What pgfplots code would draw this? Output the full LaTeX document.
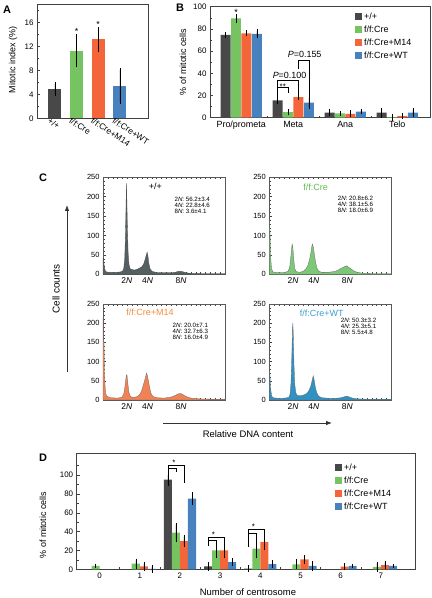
\documentclass[border=0pt]{standalone}
\usepackage{pgfplots}
\pgfplotsset{compat=1.18}
\usetikzlibrary{arrows.meta}
\usepackage{fontspec}
\setmainfont{Liberation Sans}
\definecolor{cgray}{RGB}{72,72,72}
\definecolor{cgreen}{RGB}{118,196,97}
\definecolor{corange}{RGB}{244,102,58}
\definecolor{cblue}{RGB}{72,130,190}
\definecolor{hgray}{RGB}{85,95,97}
\definecolor{hgreen}{RGB}{125,200,120}
\definecolor{horange}{RGB}{240,130,85}
\definecolor{hblue}{RGB}{50,145,195}
\definecolor{tgreen}{RGB}{95,185,75}
\definecolor{torange}{RGB}{240,140,60}
\definecolor{tblue}{RGB}{60,160,210}
\newcommand{\fs}[1]{\fontsize{#1}{#1}\selectfont}
\tikzset{stat/.style={anchor=north west, align=left, font=\fontsize{6.2}{6.1}\selectfont, inner sep=0pt}}
\pgfplotsset{
  every axis/.append style={/pgf/number format/assume math mode=true, scale only axis, anchor=south west,
    tick align=inside, axis line style={line width=0.6pt, black!75}, tick style={black!75, line width=0.4pt},
    major tick length=3bp, minor tick length=1.8bp, clip=false},
  mybar/.style={ybar, bar shift=0pt, bar width=#1, draw=none,
    /pgfplots/error bars/y dir=both, /pgfplots/error bars/y explicit,
    /pgfplots/error bars/error bar style={black, line width=0.5pt},
    /pgfplots/error bars/error mark options={black, mark size=1.8bp, line width=0.5pt}},
  sqlegend/.style={legend image code/.code={\fill[##1] (0bp,-3.5bp) rectangle (7bp,3.5bp);}},
  hist/.style={width=122bp, height=97bp, xmin=0, xmax=100, ymin=0, ymax=250,
    xtick={19.5,36.5,64}, xticklabels={2\textit{N},4\textit{N},8\textit{N}},
    major x tick style={draw=none}, minor xtick={0,4,...,100}, xtick pos=both,
    ytick={0,50,...,250}, minor y tick num=4, ytick pos=left,
    x tick label style={font=\fs{8.5}}, y tick label style={font=\fs{7.5}},
    axis line style={line width=0.5pt, black!65}},
}
\begin{document}
\begin{tikzpicture}
\path[use as bounding box] (0,0) rectangle (432bp,598bp);

% ---------------- Panel A ----------------
\node[font=\fs{11}\bfseries] at (7bp,588bp) {A};
\node[font=\fs{9}, rotate=90] at (13bp,538bp) {Mitotic index (\%)};
\begin{axis}[at={(37bp,479.7bp)}, width=111bp, height=113.6bp,
  xmin=0.17, xmax=5.3, ymin=0, ymax=19,
  xtick={1,2,3,4}, xticklabels={+/+,f/f:Cre,f/f:Cre+M14,f/f:Cre+WT},
  x tick label style={rotate=-33, anchor=north west, font=\fs{8.5}, inner sep=0.5bp, xshift=-5bp, yshift=-1bp},
  major x tick style={draw=none},
  ytick={0,4,8,12,16}, minor ytick={2,6,10,14,18}, ytick pos=left,
  y tick label style={font=\fs{8}}]
\addplot[fill=cgray, mybar=0.6] coordinates {(1,4.95) +- (0,0.85)};
\addplot[fill=cgreen, mybar=0.6] coordinates {(2,11.3) +- (0,2.5)};
\addplot[fill=corange, mybar=0.6] coordinates {(3,13.2) +- (0,1.8)};
\addplot[fill=cblue, mybar=0.6] coordinates {(4,5.4) +- (0,2.7)};
\node[font=\fs{9}] at (axis cs:2,14.5) {*};
\node[font=\fs{9}] at (axis cs:3,15.7) {*};
\end{axis}

% ---------------- Panel B ----------------
\node[font=\fs{11}\bfseries] at (180bp,590bp) {B};
\node[font=\fs{9}, rotate=90] at (183bp,536bp) {\% of mitotic cells};
\begin{axis}[at={(210bp,480.3bp)}, width=220bp, height=111bp,
  xmin=-0.6, xmax=3.63, ymin=0, ymax=100,
  xtick={0,1,2,3}, xticklabels={Pro/prometa,Meta,Ana,Telo}, major x tick style={draw=none},
  minor xtick={0.5,1.5,2.5}, xtick pos=bottom,
  x tick label style={font=\fs{9}},
  ytick={0,20,...,100}, minor ytick={10,30,50,70,90}, ytick pos=left,
  y tick label style={font=\fs{8}},
  sqlegend, legend cell align=left,
  legend style={draw=none, fill=none, font=\fs{9}, at={(0.659,0.965)}, anchor=north west,
    row sep=1bp, inner sep=0pt}]
\addplot[fill=cgray, mybar=0.19] coordinates {(-0.3,74.5) +- (0,1) (0.7,15.5) +- (0,1.8) (1.7,4.5) +- (0,1.8) (2.7,4.5) +- (0,3)};
\addplot[fill=cgreen, mybar=0.19] coordinates {(-0.1,89.5) +- (0,2.2) (0.9,5) +- (0,1.3) (1.9,3.8) +- (0,0.5) (2.9,0.5) +- (0,1.5)};
\addplot[fill=corange, mybar=0.19] coordinates {(0.1,76) +- (0,1) (1.1,18.5) +- (0,1) (2.1,3.5) +- (0,1.5) (3.1,1.5) +- (0,1)};
\addplot[fill=cblue, mybar=0.19] coordinates {(0.3,75.5) +- (0,2.5) (1.3,13.5) +- (0,4) (2.3,5.5) +- (0,0.8) (3.3,4.5) +- (0,2.5)};
\legend{+/+,f/f:Cre,f/f:Cre+M14,f/f:Cre+WT}
\draw[line width=0.5pt] (axis cs:0.7,18) |- (axis cs:1.1,34) -- (axis cs:1.1,20.5);
\draw[line width=0.5pt] (axis cs:0.7,27) -| (axis cs:0.9,22);
\draw[line width=0.5pt] (axis cs:1.1,44) |- (axis cs:1.3,52) -- (axis cs:1.3,19);
\node[font=\fs{8}, anchor=south, inner sep=0pt] at (axis cs:0.8,25) {**};
\node[font=\fs{9}, anchor=south, inner sep=0pt] at (axis cs:0.93,35.5) {\textit{P}=0.100};
\node[font=\fs{9}, anchor=south, inner sep=0pt] at (axis cs:1.22,54) {\textit{P}=0.155};
\node[font=\fs{9}] at (axis cs:-0.1,94.5) {*};
\end{axis}

% ---------------- Panel C ----------------
\node[font=\fs{11}\bfseries] at (43bp,420bp) {C};
\draw[line width=0.8pt, black!80, -{Latex[length=6bp,width=4.5bp]}] (67bp,226bp) -- (67bp,393bp);
\node[font=\fs{10}, rotate=90] at (56bp,309bp) {Cell counts};
\draw[line width=0.8pt, black!80, -{Latex[length=6bp,width=4.5bp]}] (163bp,175bp) -- (332bp,175bp);
\node[font=\fs{9.5}] at (248bp,164bp) {Relative DNA content};

\begin{axis}[hist, at={(103bp,323.7bp)}]
\addplot[fill=hgray, draw=black!70, line width=0.3pt] coordinates {
(0,42) (0.5,40) (1,20) (2,8) (3,6) (6,5) (10,5) (14,6) (16,8) (17,15) (17.8,40) (18.4,100) (18.9,180) (19.2,235) (19.5,200) (20,120) (20.6,55) (21.3,25) (22.3,14) (24,12) (26,11) (28,13) (30,16) (32,20) (33.5,28) (34.5,38) (35.5,50) (36.2,57) (36.8,48) (37.5,30) (38.5,15) (40,8) (43,5) (48,4) (55,4) (59,5) (61,7) (63,8) (65,7) (67,5) (70,3) (80,2) (90,2) (100,2)} \closedcycle;
\node[font=\fs{9}] at (rel axis cs:0.43,0.905) {+/+};
\node[stat] at (rel axis cs:0.585,0.8) {2\textit{N}: 56.2±3.4\\4\textit{N}: 22.8±4.6\\8\textit{N}: 3.6±4.1};
\end{axis}

\begin{axis}[hist, at={(269.3bp,323.7bp)}]
\addplot[fill=hgreen, draw=black!60, line width=0.3pt] coordinates {
(0,138) (0.5,120) (1,50) (1.8,15) (3,6) (8,4) (13,5) (15.5,8) (16.8,20) (17.8,50) (18.7,78) (19.3,70) (20,40) (20.8,15) (22,7) (25,5) (28,8) (30,14) (31.5,22) (33,38) (34.2,58) (35.2,78) (36,72) (37,50) (38,30) (39,16) (40.5,8) (43,5) (48,5) (53,7) (56,10) (58.5,15) (60,17) (62,20) (63.5,22) (65,18) (67,14) (69,9) (72,5) (76,3) (85,2) (100,2)} \closedcycle;
\node[font=\fs{9}, text=tgreen] at (rel axis cs:0.38,0.895) {f/f:Cre};
\node[stat] at (rel axis cs:0.56,0.81) {2\textit{N}: 20.8±6.2\\4\textit{N}: 38.1±5.6\\8\textit{N}: 18.0±6.9};
\end{axis}

\begin{axis}[hist, at={(103bp,198bp)}, height=96bp]
\addplot[fill=horange, draw=black!60, line width=0.3pt] coordinates {
(0,215) (0.3,160) (0.8,150) (1.3,60) (2,20) (3,10) (6,6) (12,5) (15.5,7) (17,15) (18,35) (19,62) (19.6,66) (20.3,45) (21.2,20) (22.5,9) (25,6) (28,9) (30,14) (31.5,22) (33,38) (34.5,55) (35.7,70) (36.5,62) (37.5,45) (38.5,28) (39.5,16) (41,9) (44,6) (50,5) (55,7) (58,10) (60.5,14) (62.5,17) (64.5,16) (66.5,12) (69,8) (72,5) (78,3) (90,2) (100,2)} \closedcycle;
\node[font=\fs{9}, text=torange] at (rel axis cs:0.385,0.917) {f/f:Cre+M14};
\node[stat] at (rel axis cs:0.57,0.8) {2\textit{N}: 20.0±7.1\\4\textit{N}: 32.7±6.3\\8\textit{N}: 16.0±4.9};
\end{axis}

\begin{axis}[hist, at={(269.3bp,198bp)}, height=96bp]
\addplot[fill=hblue, draw=black!60, line width=0.3pt] coordinates {
(0,75) (0.5,70) (1,30) (2,10) (3,6) (8,4) (13,5) (16,7) (17,15) (17.8,45) (18.5,120) (19,185) (19.3,200) (19.7,165) (20.2,95) (20.9,40) (21.8,18) (23,12) (26,11) (29,14) (31,18) (32.5,25) (34,36) (35.2,52) (36,63) (36.8,52) (37.8,32) (39,18) (40.5,10) (43,6) (50,4) (57,5) (60,7) (62,9) (63.5,10) (65.5,8) (68,5) (72,3) (80,2) (100,2)} \closedcycle;
\node[font=\fs{9}, text=tblue] at (rel axis cs:0.43,0.906) {f/f:Cre+WT};
\node[stat] at (rel axis cs:0.585,0.855) {2\textit{N}: 50.3±3.2\\4\textit{N}: 25.3±5.1\\8\textit{N}: 5.5±4.8};
\end{axis}

% ---------------- Panel D ----------------
\node[font=\fs{11}\bfseries] at (43bp,140bp) {D};
\node[font=\fs{9}, rotate=90] at (43bp,73bp) {\% of mitotic cells};
\node[font=\fs{9.5}] at (248bp,5.5bp) {Number of centrosome};
\begin{axis}[at={(76.7bp,28.7bp)}, width=338.3bp, height=116bp,
  xmin=-0.57, xmax=7.85, ymin=0, ymax=123,
  xtick={0,1,...,7}, major x tick style={draw=none}, minor xtick={0.5,1.5,...,6.5}, xtick pos=bottom,
  x tick label style={font=\fs{8}},
  ytick={0,20,...,100}, minor ytick={10,30,...,110}, ytick pos=left,
  y tick label style={font=\fs{8}},
  sqlegend, legend cell align=left,
  legend style={draw=none, fill=none, font=\fs{9}, at={(0.763,0.93)}, anchor=north west,
    row sep=1bp, inner sep=0pt}]
\addplot[fill=cgray, mybar=0.2] coordinates {(1.7,95) +- (0,5) (2.7,3) +- (0,3) (3.7,0.8) +- (0,2)};
\addplot[fill=cgreen, mybar=0.2] coordinates {(-0.1,3.5) +- (0,0.5) (0.9,6) +- (0,3.5) (1.9,39) +- (0,8.5) (2.9,20) +- (0,6) (3.9,22) +- (0,8.5) (4.9,5.3) +- (0,3.5) (6.9,2.7) +- (0,3.6)};
\addplot[fill=corange, mybar=0.2] coordinates {(1.1,3) +- (0,3) (2.1,30) +- (0,4) (3.1,20) +- (0,6) (4.1,29) +- (0,7) (5.1,10.5) +- (0,2.5) (6.1,2.8) +- (0,1.7) (7.1,4.5) +- (0,2.3)};
\addplot[fill=cblue, mybar=0.2] coordinates {(1.3,0.5) +- (0,2.5) (2.3,75) +- (0,5) (3.3,7.5) +- (0,2.5) (4.3,5.6) +- (0,2.4) (5.3,3.5) +- (0,3.5) (6.3,3.5) +- (0,0.3) (7.3,3.5) +- (0,0.3)};
\legend{+/+,f/f:Cre,f/f:Cre+M14,f/f:Cre+WT}
\draw[line width=0.5pt] (axis cs:1.7,102) |- (axis cs:2.1,110.5) -- (axis cs:2.1,92);
\draw[line width=0.5pt] (axis cs:1.7,107) -| (axis cs:1.9,103.5);
\node[font=\fs{8}] at (axis cs:1.85,113) {*};
\draw[line width=0.5pt] (axis cs:2.7,25) |- (axis cs:3.1,34) -- (axis cs:3.1,27);
\draw[line width=0.5pt] (axis cs:2.7,31) -| (axis cs:2.9,26.5);
\node[font=\fs{8}] at (axis cs:2.83,36.5) {*};
\draw[line width=0.5pt] (axis cs:3.7,24) |- (axis cs:4.1,42) -- (axis cs:4.1,36.5);
\draw[line width=0.5pt] (axis cs:3.7,38.5) -| (axis cs:3.9,31.5);
\node[font=\fs{8}] at (axis cs:3.83,45) {*};
\end{axis}
\end{tikzpicture}
\end{document}
